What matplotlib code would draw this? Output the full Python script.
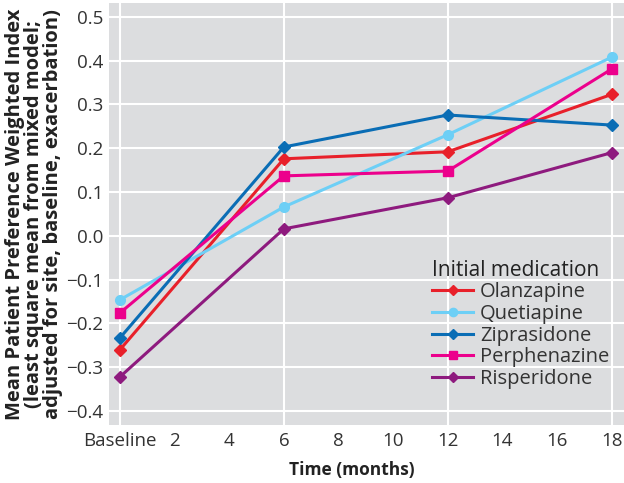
import matplotlib
matplotlib.use("Agg")
import matplotlib.pyplot as plt

plt.rcParams['font.family'] = ['Open Sans', 'DejaVu Sans']

# months
months = [0, 6, 12, 18]
olanzapine = [-0.26, 0.176, 0.192, 0.323]
quetiapine = [-0.146, 0.066, 0.231, 0.408]
ziprasidone = [-0.233, 0.203, 0.276, 0.253]
perphenazine = [-0.176, 0.137, 0.148, 0.381]
risperidone = [-0.322, 0.016, 0.087, 0.19]

series = [
    ("Olanzapine", olanzapine, "#e8202a", "D"),
    ("Quetiapine", quetiapine, "#6dcff6", "o"),
    ("Ziprasidone", ziprasidone, "#0a6db5", "D"),
    ("Perphenazine", perphenazine, "#ec008c", "s"),
    ("Risperidone", risperidone, "#8e1a7e", "D"),
]

xticks = [0, 2, 4, 6, 8, 10, 12, 14, 16, 18]
xlabels = ["Baseline", "2", "4", "6", "8", "10", "12", "14", "16", "18"]
yticks = [-0.4, -0.3, -0.2, -0.1, 0.0, 0.1, 0.2, 0.3, 0.4, 0.5]

fig = plt.figure(figsize=(6.24, 4.83), dpi=100)
ax = fig.add_axes([0.1747, 0.12, 0.8253, 0.874])
ax.set_facecolor("#dcdddf")

# grid: horizontal at every y tick, vertical only every 6 months
for y in yticks:
    ax.axhline(y, color="white", lw=1.5, zorder=1)
for x in [0, 6, 12, 18]:
    ax.axvline(x, color="white", lw=1.5, zorder=1)

for name, vals, col, mk in series:
    ms = 6.5 if mk == "s" else (7 if mk == "o" else 6)
    ax.plot(months, vals, color=col, marker=mk, ms=ms, lw=2.2, label=name, zorder=3)

ax.set_xlim(-0.4, 18.45)
ax.set_ylim(-0.432, 0.532)
ax.set_xticks(xticks)
ax.set_xticklabels(xlabels)
ax.set_yticks(yticks)
ax.set_yticklabels(["\u22120.4", "\u22120.3", "\u22120.2", "\u22120.1", "0.0", "0.1", "0.2", "0.3", "0.4", "0.5"])
ax.tick_params(length=0, labelsize=13.5, colors="#333333")
ax.tick_params(axis="x", pad=5)
ax.tick_params(axis="y", pad=4)
for s in ax.spines.values():
    s.set_visible(False)

ax.set_xlabel("Time (months)", fontsize=12.5, fontweight="bold", color="#222222")
ax.xaxis.set_label_coords(0.472, -0.085)
ax.set_ylabel("Mean Patient Preference Weighted Index\n(least square mean from mixed model;\nadjusted for site, baseline, exacerbation)",
              fontsize=14.5, fontweight="bold", linespacing=0.92, color="#222222")
ax.yaxis.set_label_coords(-0.09, 0.5)

leg = ax.legend(title="Initial medication", loc="upper left", bbox_to_anchor=(0.628, 0.392),
                frameon=False, fontsize=14.5, title_fontsize=15, handlelength=2.0,
                labelspacing=0.085, borderaxespad=0, borderpad=0, handletextpad=0.35,
                markerscale=0.85)
leg._legend_box.align = "left"
leg.get_title().set_color("#222222")
for t in leg.get_texts():
    t.set_color("#333333")

fig.savefig("out.png", dpi=100)
